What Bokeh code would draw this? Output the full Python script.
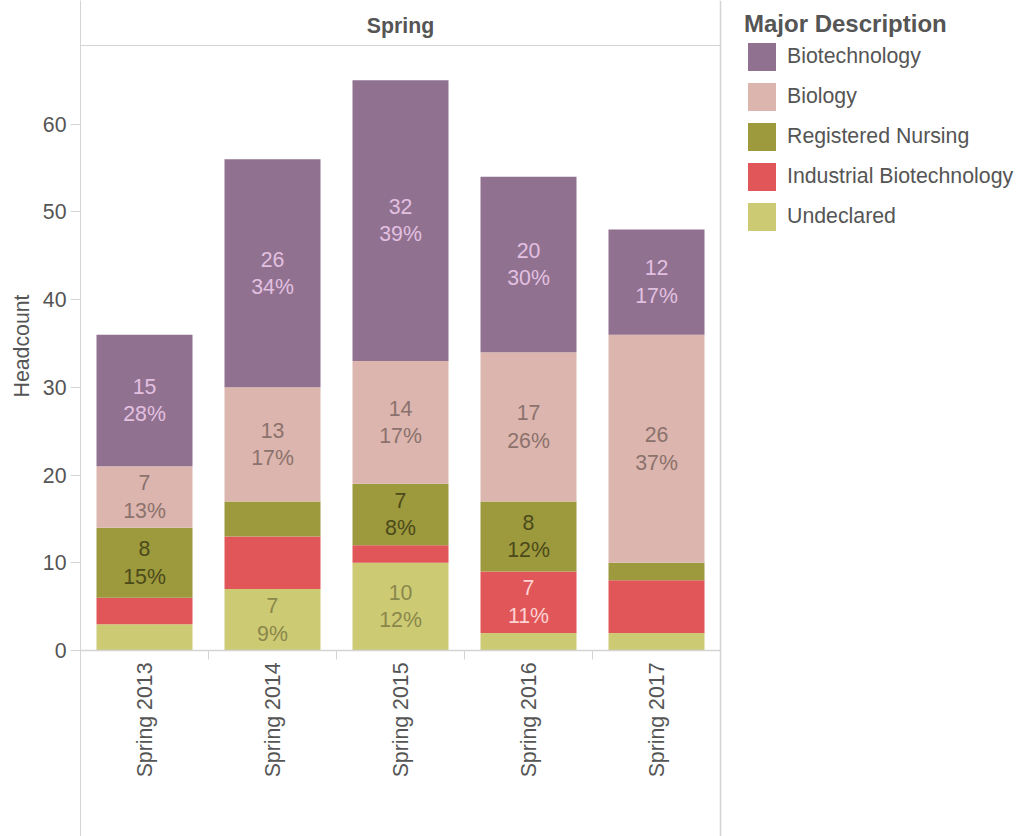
import math
from bokeh.plotting import figure
from bokeh.models import (ColumnDataSource, Range1d, FixedTicker, Span, Title,
                          Legend, LegendItem)
from bokeh.core.properties import value
from bokeh.embed import file_html
from bokeh.resources import INLINE

# ---------------- data ----------------
categories = ["Spring 2013", "Spring 2014", "Spring 2015", "Spring 2016", "Spring 2017"]
# stack order, bottom -> top
majors = ["Undeclared", "Industrial Biotechnology", "Registered Nursing", "Biology", "Biotechnology"]

undeclared = [3, 7, 10, 2, 2]
industrial = [3, 6, 2, 7, 6]
nursing = [8, 4, 7, 8, 2]
biology = [7, 13, 14, 17, 26]
biotech = [15, 26, 32, 20, 12]

# percentage labels shown on the bars (None = no label shown)
undeclared_pct = [None, 9, 12, None, None]
industrial_pct = [None, None, None, 11, None]
nursing_pct = [15, None, 8, 12, None]
biology_pct = [13, 17, 17, 26, 37]
biotech_pct = [28, 34, 39, 30, 17]

y_ticks = [0, 10, 20, 30, 40, 50, 60]
column_header = "Spring"
y_title = "Headcount"
legend_title = "Major Description"

series = {
    "Undeclared": undeclared,
    "Industrial Biotechnology": industrial,
    "Registered Nursing": nursing,
    "Biology": biology,
    "Biotechnology": biotech,
}
series_pct = {
    "Undeclared": undeclared_pct,
    "Industrial Biotechnology": industrial_pct,
    "Registered Nursing": nursing_pct,
    "Biology": biology_pct,
    "Biotechnology": biotech_pct,
}

# ---------------- style ----------------
fill_colors = {
    "Undeclared": "#cdca74",
    "Industrial Biotechnology": "#e15759",
    "Registered Nursing": "#9d993d",
    "Biology": "#dcb5ae",
    "Biotechnology": "#917190",
}
label_colors = {
    "Undeclared": "#8a874b",
    "Industrial Biotechnology": "#fdd3d3",
    "Registered Nursing": "#4b4a1a",
    "Biology": "#8b726d",
    "Biotechnology": "#e2c0e0",
}
FONT = "Liberation Sans"
TXT = "#555555"
RULE = "#d4d4d4"
FS = "21.3px"

W, H = 1021, 836
LEFT = 80                    # px, left edge of the panel
PX_PER_CAT = 128             # px per category column
PX_PER_UNIT = 8.772          # vertical scale of the value axis
ZERO_FROM_TOP = 650          # px from figure top to the zero line
ZERO_TO_BOTTOM = H - ZERO_FROM_TOP
HEADER_Y = (ZERO_FROM_TOP - 45) / PX_PER_UNIT  # header rule, top of data area

n = len(categories)

p = figure(width=W, height=H,
           x_range=Range1d(0, (W - LEFT) / PX_PER_CAT),
           y_range=Range1d(-ZERO_TO_BOTTOM / PX_PER_UNIT, ZERO_FROM_TOP / PX_PER_UNIT),
           output_backend="svg", toolbar_location=None,
           x_axis_location=None,
           min_border_left=LEFT, min_border_right=0,
           min_border_top=0, min_border_bottom=0)
p.outline_line_color = None
p.xgrid.visible = False
p.ygrid.visible = False
p.background_fill_color = "white"
p.border_fill_color = "white"

# y axis
yax = p.yaxis[0]
yax.ticker = FixedTicker(ticks=y_ticks)
yax.axis_line_color = RULE
yax.major_tick_line_color = RULE
yax.major_tick_out = 10
yax.major_tick_in = 0
yax.minor_tick_line_color = None
yax.major_label_text_font = FONT
yax.major_label_text_font_size = FS
yax.major_label_text_color = TXT
yax.major_label_standoff = 4

# y axis title (left panel, placed along the data area)
p.add_layout(Title(text=y_title, align="left", offset=439, standoff=12,
                   text_font=FONT, text_font_size=FS, text_font_style="normal",
                   text_color=TXT), "left")

# bars
xs = [i + 0.5 for i in range(n)]
data = dict(x=xs, category=categories)
data.update(series)
src = ColumnDataSource(data)
renderers = p.vbar_stack(majors, x="x", width=0.75, source=src,
                         fill_color=[fill_colors[m] for m in majors],
                         line_color=None)

# bar labels
bottoms = [0] * n
for m in majors:
    vals = series[m]
    pcts = series_pct[m]
    lx, ly, lt = [], [], []
    for i in range(n):
        if pcts[i] is not None:
            lx.append(xs[i])
            ly.append(bottoms[i] + vals[i] / 2)
            lt.append(f"{vals[i]}\n{pcts[i]}%")
    if lx:
        p.text(x=lx, y=ly, text=lt, text_align="center", text_baseline="middle",
               text_font=value(FONT), text_font_size=FS, text_line_height=1.15,
               text_color=label_colors[m])
    bottoms = [b + v for b, v in zip(bottoms, vals)]

# x axis: rule, separators, rotated category labels
p.segment(x0=[0], y0=[0], x1=[n], y1=[0], line_color=RULE, line_width=1.5)
sep_x = list(range(1, n))
p.segment(x0=sep_x, y0=[0] * len(sep_x), x1=sep_x, y1=[-9 / PX_PER_UNIT] * len(sep_x),
          line_color=RULE, line_width=1)
p.text(x=xs, y=[0] * n, text=categories, angle=math.pi / 2,
       text_align="right", text_baseline="middle", y_offset=12,
       text_font=value(FONT), text_font_size=FS, text_color=TXT)

# header panel and right border of the pane
p.segment(x0=[0], y0=[HEADER_Y], x1=[n], y1=[HEADER_Y], line_color=RULE, line_width=1)
p.add_layout(Span(location=n, dimension="height", line_color=RULE, line_width=1.5))
p.text(x=[n / 2], y=[HEADER_Y], text=[column_header], y_offset=-20,
       text_align="center", text_baseline="middle",
       text_font=value(FONT), text_font_size=FS, text_font_style="bold",
       text_color=TXT)

# legend (top-down order = reverse of stack)
items = [LegendItem(label=m, renderers=[r]) for m, r in zip(majors, renderers)][::-1]
legend = Legend(items=items, location=(664, 602), title=legend_title,
                title_text_font=FONT, title_text_font_size="24px",
                title_text_font_style="bold", title_text_color=TXT,
                title_standoff=1,
                label_text_font=FONT, label_text_font_size=FS, label_text_color=TXT,
                glyph_width=35, glyph_height=35, label_height=35,
                spacing=5, label_standoff=8, padding=0, margin=0,
                border_line_color=None, background_fill_alpha=0)
p.add_layout(legend)

open("out.html", "w").write(file_html(p, INLINE))
